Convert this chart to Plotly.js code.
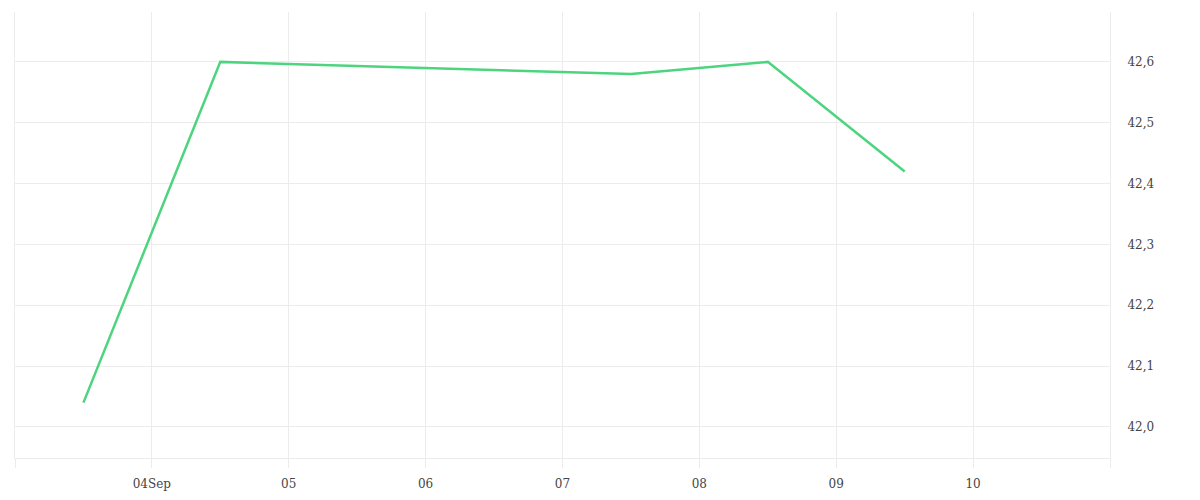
<!DOCTYPE html>
<html>
<head>
<meta charset="utf-8">
<script src="https://cdn.plot.ly/plotly-3.0.1.min.js"></script>
<style>
  html, body { margin: 0; padding: 0; background: #fff; }
  #graph { width: 1200px; height: 500px; }
</style>
</head>
<body>
<div id="graph"></div>
<script>
// price series, one point per day (midday)
const dates = ['2023-09-03 12:00', '2023-09-04 12:00', '2023-09-07 12:00', '2023-09-08 12:00', '2023-09-09 12:00'];
const prices = [42.04, 42.6, 42.58, 42.6, 42.42];

const tickDates = ['2023-09-03', '2023-09-04', '2023-09-05', '2023-09-06', '2023-09-07', '2023-09-08', '2023-09-09', '2023-09-10', '2023-09-11'];
const tickLabels = ['', '04Sep', '05', '06', '07', '08', '09', '10', ''];

const gridColor = '#ececec';
const fontFamily = 'DejaVu Serif, Liberation Serif, serif';

var trace = {
    x: dates,
    y: prices,
    mode: 'lines',
    type: 'scatter',
    line: {color: '#4cd47e', width: 2.5},
    hoverinfo: 'skip'
};

const layout = {
    width: 1200,
    height: 500,
    paper_bgcolor: '#fff',
    plot_bgcolor: '#fff',
    showlegend: false,
    separators: ', ',
    margin: {l: 15, r: 90, t: 12, b: 42},
    font: {family: fontFamily, size: 12, color: '#444'},
    xaxis: {
        type: 'date',
        range: ['2023-09-03', '2023-09-11'],
        tickmode: 'array',
        tickvals: tickDates,
        ticktext: tickLabels,
        showgrid: true,
        gridcolor: gridColor,
        showline: true,
        linecolor: gridColor,
        linewidth: 1,
        ticks: 'outside',
        ticklen: 9,
        tickcolor: gridColor,
        ticklabelstandoff: 6,
        zeroline: false,
        tickfont: {family: fontFamily, size: 12, color: '#444'}
    },
    yaxis: {
        side: 'right',
        range: [41.949, 42.682],
        dtick: 0.1,
        tick0: 42.0,
        tickformat: '.1f',
        showgrid: true,
        gridcolor: gridColor,
        zeroline: false,
        showline: true,
        mirror: true,
        linecolor: gridColor,
        ticks: '',
        ticklabelstandoff: 14,
        tickfont: {family: fontFamily, size: 12, color: '#444'}
    }
};

Plotly.newPlot('graph', [trace], layout, {displayModeBar: false, staticPlot: true});
</script>
</body>
</html>
